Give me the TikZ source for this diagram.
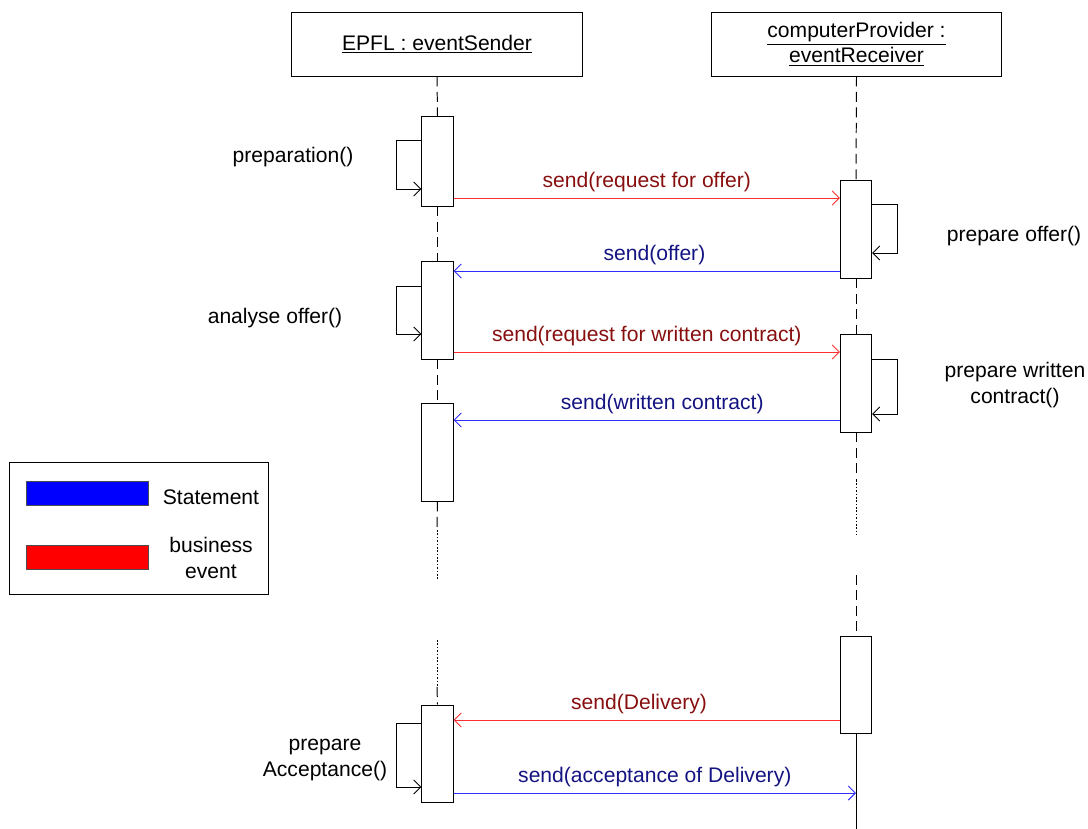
\documentclass[tikz,border=0pt]{standalone}
\usepackage{fontspec}
\setmainfont{Liberation Sans}
\usetikzlibrary{arrows.meta}

\definecolor{sigred}{RGB}{255,45,45}
\definecolor{sigblue}{RGB}{45,45,255}
\definecolor{txtred}{RGB}{135,15,15}
\definecolor{txtblue}{RGB}{20,20,130}

\begin{document}
\begin{tikzpicture}[x=0.025cm,y=-0.025cm,line width=0.7pt,
    font=\fontsize{15}{18}\selectfont,
    >={Straight Barb[length=5pt,width=10pt]},
    lifeline/.style={draw,dash pattern=on 7pt off 4pt},
    lifedots/.style={draw,dash pattern=on 1.2pt off 1.2pt}]

      \useasboundingbox (0,0) rectangle (1088,829);

      \begin{scope}[every node/.style={draw,rectangle,align=center,minimum width=7.25cm,minimum height=1.6cm}]
        \node (sender)   at (437,44)   {\underline{EPFL : eventSender}};
        \node (receiver) at (856.5,44) {\underline{computerProvider :}\\\underline{eventReceiver}};
      \end{scope}

      \begin{scope}[every node/.style={draw,rectangle,fill=white,inner sep=0pt,minimum width=0.78cm,minimum height=2.425cm}]
        \node[minimum height=2.225cm] (sa1) at (437.5,161.5) {};
        \node (sa2) at (437.5,310.5) {};
        \node (sa3) at (437.5,452.5) {};
        \node (sa4) at (437.5,753.5) {};
        \node (ra1) at (856,229.5) {};
        \node (ra2) at (856,383.5) {};
        \node (ra3) at (856,684.5) {};
      \end{scope}

      % breaks in the lifelines
      \coordinate (sb1) at (437,530);
      \coordinate (sb2) at (437,580);
      \coordinate (sb3) at (437,640);
      \coordinate (sb4) at (437,687);
      \coordinate (rb1) at (856,480);
      \coordinate (rb2) at (856,535);
      \coordinate (rb3) at (856,575);
      \coordinate (rend) at (856,829);

      \path[lifeline] (sender.south) -- (sa1.north);
      \path[lifeline] (sa1.south) -- (sa2.north);
      \path[lifeline] (sa2.south) -- (sa3.north);
      \path[lifeline] (sa3.south) -- (sb1);
      \path[lifedots] (sb1) -- (sb2);
      \path[lifedots] (sb3) -- (sb4);
      \path[lifeline] (sb4) -- (sa4.north);
      \path[lifeline] (receiver.south) -- (ra1.north);
      \path[lifeline] (ra1.south) -- (ra2.north);
      \path[lifeline] (ra2.south) -- (rb1);
      \path[lifedots] (rb1) -- (rb2);
      \path[lifeline] (rb3) -- (ra3.north);
      \draw (ra3.south) -- (rend);

      % message rows
      \coordinate (m1) at (0,198);
      \coordinate (m2) at (0,271);
      \coordinate (m3) at (0,352);
      \coordinate (m4) at (0,420);
      \coordinate (m5) at (0,720);
      \coordinate (m6) at (0,793);

      \begin{scope}[every node/.style={above=1pt}]

        \begin{scope}[every edge/.style={draw,sigred,->},every node/.append style={txtred}]
          \path (sa1.east |- m1) edge node {send(request for offer)} (ra1.west |- m1);
          \path (sa2.east |- m3) edge node {send(request for written contract)} (ra2.west |- m3);
          \path (ra3.west |- m5) edge node[pos=0.52] {send(Delivery)} (sa4.east |- m5);
        \end{scope}

        \begin{scope}[every edge/.style={draw,sigblue,->},every node/.append style={txtblue}]
          \path (ra1.west |- m2) edge node[pos=0.48] {send(offer)} (sa2.east |- m2);
          \path (ra2.west |- m4) edge node[pos=0.46] {send(written contract)} (sa3.east |- m4);
          \path (sa4.east |- m6) edge node {send(acceptance of Delivery)} (rend |- m6);
        \end{scope}

      \end{scope}

      % self calls
      \coordinate (s1a) at (0,140);  \coordinate (s1b) at (0,189);
      \coordinate (s2a) at (0,286);  \coordinate (s2b) at (0,334);
      \coordinate (s4a) at (0,723);  \coordinate (s4b) at (0,787);
      \coordinate (r1a) at (0,204);  \coordinate (r1b) at (0,253);
      \coordinate (r2a) at (0,359);  \coordinate (r2b) at (0,414);

      \draw[->] (sa1.west |- s1a) -- ++(-25,0) |- (sa1.west |- s1b);
      \draw[->] (sa2.west |- s2a) -- ++(-25,0) |- (sa2.west |- s2b);
      \draw[->] (sa4.west |- s4a) -- ++(-25,0) |- (sa4.west |- s4b);
      \draw[->] (ra1.east |- r1a) -- ++(25,0) |- (ra1.east |- r1b);
      \draw[->] (ra2.east |- r2a) -- ++(25,0) |- (ra2.east |- r2b);

      \begin{scope}[every node/.style={align=center}]
        \node (preparation) at (293,157)  {preparation()};
        \node (analyse)     at (275,318)  {analyse offer()};
        \node (acceptance)  at (325,760)  {prepare\\Acceptance()};
        \node (prepoffer)   at (1014,236) {prepare offer()};
        \node (prepwritten) at (1015,385) {prepare written\\contract()};
      \end{scope}

      % legend
      \node[draw,minimum width=6.45cm,minimum height=3.275cm] (legend) at (139,528.5) {};
      \begin{scope}[every node/.style={draw=black!70,line width=0.4pt,minimum width=3.05cm,minimum height=0.6cm}]
        \node[fill=blue] (keyblue) at (87,493)   {};
        \node[fill=red]  (keyred)  at (87,557.5) {};
      \end{scope}
      \node (statement) at (211,497) {Statement};
      \node[align=center] (business) at (211,558) {business\\event};

    \end{tikzpicture}
\end{document}
